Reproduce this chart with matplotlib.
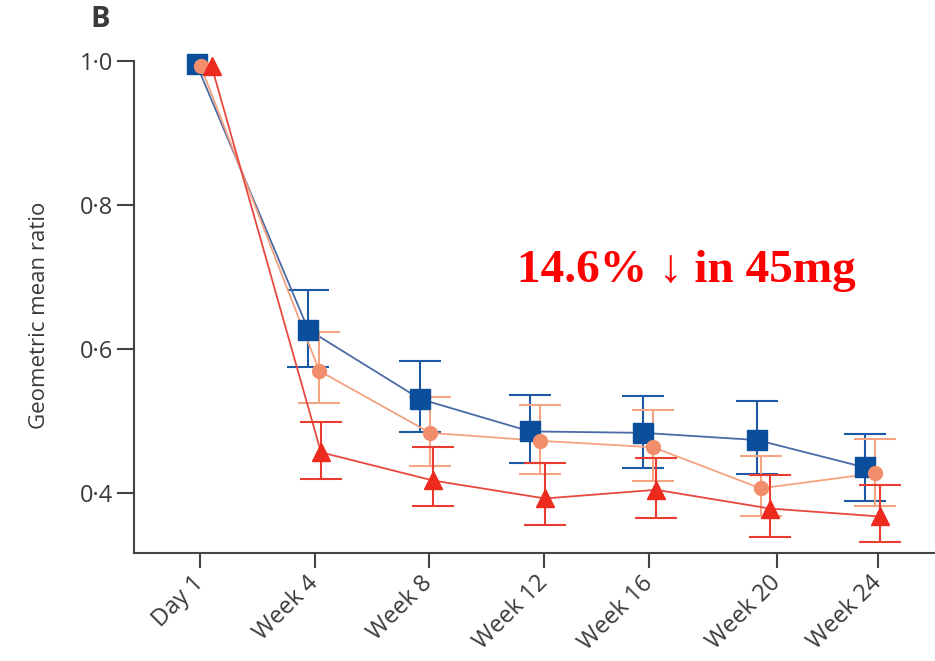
import matplotlib
matplotlib.use("Agg")
import matplotlib.pyplot as plt

# visits and where their ticks sit on the time axis (weeks)
visits = ["Day 1", "Week 4", "Week 8", "Week 12", "Week 16", "Week 20", "Week 24"]
tick_pos = [0.0, 4.08, 8.12, 12.2, 15.92, 20.46, 24.03]

# dose groups are drawn slightly dodged around each visit
x_sq = [-0.12, 3.84, 7.80, 11.70, 15.70, 19.76, 23.58]
x_ci = [0.02, 4.23, 8.16, 12.06, 16.07, 19.88, 23.94]
x_tr = [0.41, 4.29, 8.25, 12.23, 16.17, 20.21, 24.11]

# geometric mean ratio with 95% CI (low, high)
gmr_sq = [0.995, 0.627, 0.531, 0.486, 0.484, 0.474, 0.436]
lo_sq = [0.995, 0.575, 0.485, 0.442, 0.435, 0.427, 0.389]
hi_sq = [0.995, 0.682, 0.584, 0.536, 0.535, 0.528, 0.482]

gmr_ci = [0.993, 0.570, 0.484, 0.473, 0.464, 0.407, 0.428]
lo_ci = [0.993, 0.525, 0.438, 0.427, 0.417, 0.369, 0.382]
hi_ci = [0.993, 0.624, 0.534, 0.522, 0.516, 0.452, 0.476]

gmr_tr = [0.993, 0.457, 0.418, 0.393, 0.405, 0.379, 0.368]
lo_tr = [0.993, 0.420, 0.382, 0.356, 0.366, 0.340, 0.333]
hi_tr = [0.993, 0.499, 0.464, 0.442, 0.449, 0.425, 0.412]

ytick_vals = [0.4, 0.6, 0.8, 1.0]
ytick_labels = ["0\u00b74", "0\u00b76", "0\u00b78", "1\u00b70"]

plt.rcParams["font.family"] = ["Open Sans", "DejaVu Sans"]
txt = "#3a3a3a"

fig = plt.figure(figsize=(9.35, 6.61), dpi=100)
ax = fig.add_axes([0.1436, 0.163, 0.8564, 0.745])

series = [
    (x_sq, gmr_sq, lo_sq, hi_sq, "s", 15, "#0b4f9c", "#4a6aa5", "#1d5aa6"),
    (x_ci, gmr_ci, lo_ci, hi_ci, "o", 10, "#f28e6b", "#f4a280", "#f5a483"),
    (x_tr, gmr_tr, lo_tr, hi_tr, "^", 13, "#ec2a1d", "#e8483f", "#ea3b30"),
]
for k, (xs, ys, lo, hi, mk, ms, mcol, lcol, ecol) in enumerate(series):
    yerr = [[y - l for y, l in zip(ys, lo)], [h - y for y, h in zip(ys, hi)]]
    # whiskers only after baseline (day 1 is the reference)
    ax.errorbar(xs[1:], ys[1:], yerr=[yerr[0][1:], yerr[1][1:]], fmt="none",
                ecolor=ecol, elinewidth=1.5, capsize=15, capthick=1.5,
                zorder=2 + k, clip_on=False)
    ax.plot(xs, ys, color=lcol, lw=1.3, zorder=2 + k, clip_on=False)
    ax.plot(xs, ys, ls="none", marker=mk, ms=ms, color=mcol, mec=mcol,
            zorder=5 + k, clip_on=False)

ax.set_xlim(-2.33, 26.06)
ax.set_ylim(0.317, 1.0)

ax.set_xticks(tick_pos)
ax.set_xticklabels(visits, rotation=45, ha="right", va="center",
                   rotation_mode="anchor", fontsize=17, color=txt)
ax.set_yticks(ytick_vals)
ax.set_yticklabels(ytick_labels, fontsize=17, color=txt)

ax.tick_params(axis="x", length=11, width=1.5, color="#444444", pad=8)
ax.tick_params(axis="y", length=12, width=1.5, color="#444444", pad=3)

for side in ("top", "right"):
    ax.spines[side].set_visible(False)
for side in ("left", "bottom"):
    ax.spines[side].set_color("#444444")
    ax.spines[side].set_linewidth(1.5)

ax.set_ylabel("Geometric mean ratio", fontsize=16, color=txt)
ax.yaxis.set_label_coords(-0.105, 0.484)

fig.text(90 / 935, 1 - 5 / 661, "B", fontsize=21, fontweight="bold",
         color=txt, ha="left", va="top")
fig.text(517 / 935, 1 - 282 / 661, "14.6% \u2193 in 45mg", fontsize=34,
         fontweight="bold", color="#ff0000", ha="left", va="baseline",
         family=["Liberation Serif", "DejaVu Serif"])

fig.savefig("out.png", dpi=100)
